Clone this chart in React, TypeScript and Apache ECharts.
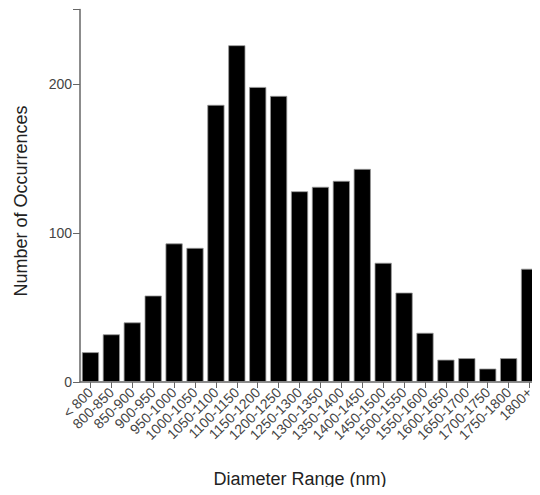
import React, { useEffect, useRef } from "react";
import * as echarts from "echarts";

const categories = [
  "< 800", "800-850", "850-900", "900-950", "950-1000", "1000-1050", "1050-1100",
  "1100-1150", "1150-1200", "1200-1250", "1250-1300", "1300-1350", "1350-1400",
  "1400-1450", "1450-1500", "1500-1550", "1550-1600", "1600-1650", "1650-1700",
  "1700-1750", "1750-1800", "1800+",
];
const counts = [20, 32, 40, 58, 93, 90, 186, 226, 198, 192, 128, 131, 135, 143, 80, 60, 33, 15, 16, 9, 16, 76];
const yTicks = [0, 100, 200];
const xTitle = "Diameter Range (nm)";
const yTitle = "Number of Occurrences";

const FONT = "Arial";

export default function App() {
  const ref = useRef<HTMLDivElement>(null);
  useEffect(() => {
    if (!ref.current) return;
    const chart = echarts.init(ref.current, null, { renderer: "svg" });
    const axisColor = "#666";
    chart.setOption({
      animation: false,
      grid: { left: 80, top: 9.5, bottom: 113, width: 461 },
      graphic: [
        {
          type: "text",
          x: 300,
          y: 479,
          style: { text: xTitle, fontSize: 18, fontFamily: FONT, fill: "#222", align: "center", verticalAlign: "middle" },
        },
        {
          type: "text",
          x: 21,
          y: 201,
          rotation: Math.PI / 2,
          style: { text: yTitle, fontSize: 18, fontFamily: FONT, fill: "#222", align: "center", verticalAlign: "middle" },
        },
      ],
      xAxis: {
        type: "category",
        data: categories,
        axisLine: { lineStyle: { color: axisColor, width: 1.5 } },
        axisTick: { show: true, alignWithLabel: true, length: 6, lineStyle: { color: axisColor } },
        axisLabel: { rotate: 45, interval: 0, fontSize: 14, color: "#444" },
      },
      yAxis: {
        type: "value",
        min: 0,
        max: 250,
        interval: 100,
        axisLine: { show: true, lineStyle: { color: axisColor, width: 1.5 } },
        axisTick: { show: true, length: 7, lineStyle: { color: axisColor } },
        axisLabel: {
          fontSize: 14,
          color: "#444",
          formatter: (v: number) => (yTicks.includes(v) ? String(v) : ""),
        },
        splitLine: { show: false },
      },
      series: [
        {
          type: "bar",
          data: counts,
          barCategoryGap: "18%",
          itemStyle: { color: "#000", borderColor: "#999", borderWidth: 0.8 },
        },
      ],
    });
    return () => chart.dispose();
  }, []);
  return <div ref={ref} style={{ width: 540, height: 495, margin: -8 }} />;
}
